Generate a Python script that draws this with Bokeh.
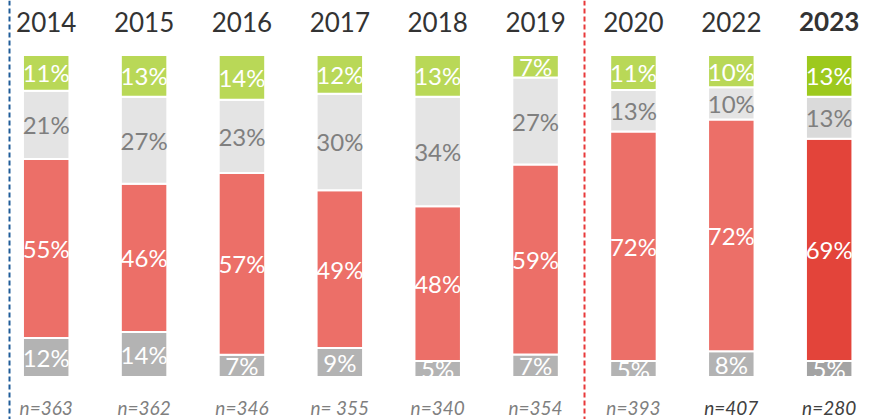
from bokeh.plotting import figure
from bokeh.models import ColumnDataSource, Range1d, Span
from bokeh.embed import file_html
from bokeh.resources import INLINE
from bokeh.core.properties import value

# ---- data ----
years = ["2014", "2015", "2016", "2017", "2018", "2019", "2020", "2022", "2023"]
n_labels = ["n=363", "n=362", "n=346", "n= 355", "n=340", "n=354", "n=393", "n=407", "n=280"]
dark_grey_vals = [12, 14, 7, 9, 5, 7, 5, 8, 5]
red_vals = [55, 46, 57, 49, 48, 59, 72, 72, 69]
light_grey_vals = [21, 27, 23, 30, 34, 27, 13, 10, 13]
green_vals = [11, 13, 14, 12, 13, 7, 11, 10, 13]
highlight_year = "2023"
split_after = "2019"

# ---- styles ----
series = [
    # values, normal colour, highlight colour, label colour
    (dark_grey_vals, "#b3b3b3", "#a3a3a3", "white"),
    (red_vals, "#ec6f68", "#e3443a", "white"),
    (light_grey_vals, "#e4e4e4", "#dadada", "#7f7f7f"),
    (green_vals, "#b9d857", "#9dc91d", "white"),
]

seg = dict(x=[], bottom=[], top=[], mid=[], color=[], label=[], lcolor=[])
for i, yr in enumerate(years):
    total = sum(s[0][i] for s in series)
    acc = 0.0
    for vals, c, ch, lc in series:
        v = vals[i]
        h = v * 100.0 / total
        seg["x"].append(i)
        seg["bottom"].append(acc)
        seg["top"].append(acc + h)
        seg["mid"].append(acc + h / 2)
        seg["color"].append(ch if yr == highlight_year else c)
        seg["label"].append(f"{v}%")
        seg["lcolor"].append(lc)
        acc += h
src = ColumnDataSource(seg)

p = figure(width=874, height=419,
           x_range=Range1d(-0.467, 8.463), y_range=Range1d(-13.2, 116.93),
           x_axis_type=None, y_axis_type=None,
           output_backend="svg", toolbar_location=None, min_border=0)
p.grid.visible = False
p.outline_line_color = None
p.background_fill_color = "white"
p.border_fill_color = "white"

p.vbar(x="x", bottom="bottom", top="top", width=0.475, fill_color="color",
       line_color="white", line_width=2, source=src)

p.text(x="x", y="mid", text="label", text_color="lcolor", source=src,
       text_font=value("Lato"), text_font_size="24px",
       text_align="center", text_baseline="middle")

# year labels
xs = list(range(len(years)))
ysrc = ColumnDataSource(dict(
    x=xs, y=[110.4] * len(years), t=years,
    style=["bold" if y == highlight_year else "normal" for y in years],
))
p.text(x="x", y="y", text="t", source=ysrc, text_color="#333333",
       text_font=value("Lato"), text_font_size="26px", text_font_style="style",
       text_align="center", text_baseline="middle")

# n labels
nsrc = ColumnDataSource(dict(
    x=xs, y=[-9.6] * len(years), t=n_labels,
    c=["#404040" if i >= 7 else "#7f7f7f" for i in xs],
))
p.text(x="x", y="y", text="t", source=nsrc, text_color="c",
       text_font=value("Lato"), text_font_size="19px", text_font_style="italic",
       text_align="center", text_baseline="middle")

# divider lines
split_idx = years.index(split_after)
p.add_layout(Span(location=-0.375, dimension="height", line_color="#1f5c99",
                  line_width=2, line_dash="5 3"))
p.add_layout(Span(location=split_idx + 0.5, dimension="height", line_color="#e8393a",
                  line_width=2, line_dash="5 3"))

open("out.html", "w").write(file_html(p, INLINE))
